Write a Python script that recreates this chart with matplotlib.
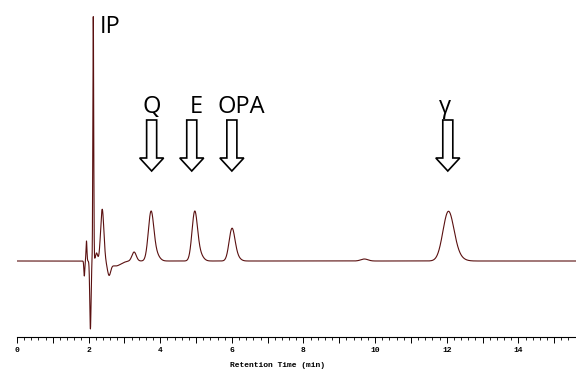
import numpy as np
import matplotlib
matplotlib.use('Agg')
import matplotlib.pyplot as plt
from matplotlib.patches import Polygon

# peak table: retention time (min), height, width (sigma, min)
# (the small entries just after the main peaks give them their tailing)
peak_times   = [1.88, 1.94, 2.05, 2.13, 2.22, 2.38, 2.57, 2.75, 3.27,
                3.74, 3.86, 4.96, 5.08, 6.00, 6.11, 9.70, 12.04, 12.22]
peak_heights = [-15., 20., -68., 245., 8., 52., -12., -5., 9.,
                46., 8., 46., 8., 30., 5., 2., 46., 6.]
peak_widths  = [0.013, 0.013, 0.018, 0.012, 0.03, 0.045, 0.045, 0.15, 0.06,
                0.075, 0.1, 0.075, 0.1, 0.08, 0.1, 0.1, 0.15, 0.18]

# labelled compounds and where the arrows point
labels      = ['Q', 'E', 'OPA', '\u03b3']
label_times = [3.76, 4.88, 6.00, 12.03]

T_END = 15.61
t = np.linspace(0., T_END, 8000)
signal = np.zeros_like(t)
for t0, h, s in zip(peak_times, peak_heights, peak_widths):
    signal += h*np.exp(-0.5*((t - t0)/s)**2)

fig = plt.figure(figsize=(5.76, 3.69), dpi=100)
ax = fig.add_axes([17/576., 32/369., 1 - 17/576., 1 - 32/369.])
ax.plot(t, signal, color='#5a1010', lw=0.8)
ax.set_xlim(0, T_END)
ax.set_ylim(-76, 261)

for side in ['top', 'right', 'left']:
    ax.spines[side].set_visible(False)
ax.spines['bottom'].set_linewidth(0.8)
ax.set_yticks([])
ax.set_xticks(np.arange(0, 16, 1))
ax.set_xticklabels([str(i) if i % 2 == 0 else '' for i in range(16)])
ax.set_xticks(np.arange(0, T_END, 0.2), minor=True)
ax.tick_params(axis='x', which='major', direction='out', length=4, width=0.7, pad=3.5)
ax.tick_params(axis='x', which='minor', direction='out', length=2.2, width=0.6)
for lab in ax.get_xticklabels():
    lab.set_fontfamily('Liberation Mono')
    lab.set_fontweight('bold')
    lab.set_fontsize(5.8)
ax.set_xlabel('Retention Time (min)', family='Liberation Mono', fontweight='bold',
              fontsize=5.8, labelpad=5)
ax.xaxis.set_label_coords((278 - 17)/559., -0.075)

# hollow block arrows
shaft_w, head_w = 0.28, 0.67
top, neck, tip = 141, 103, 90
for lab, x0 in zip(labels, label_times):
    pts = [(x0 - shaft_w/2, top), (x0 + shaft_w/2, top), (x0 + shaft_w/2, neck),
           (x0 + head_w/2, neck), (x0, tip), (x0 - head_w/2, neck), (x0 - shaft_w/2, neck)]
    ax.add_patch(Polygon(pts, closed=True, fc='white', ec='black', lw=1.2, joinstyle='miter'))

text_dx = {'Q': 0.0, 'E': 0.12, 'OPA': 0.27, '\u03b3': -0.07}
for lab, x0 in zip(labels, label_times):
    ax.text(x0 + text_dx[lab], 148, lab, ha='center', va='baseline',
            family='Open Sans', fontsize=17)
ax.text(2.3, 228, 'IP', ha='left', va='baseline', family='Open Sans', fontsize=17)

fig.savefig('out.png', dpi=100)
